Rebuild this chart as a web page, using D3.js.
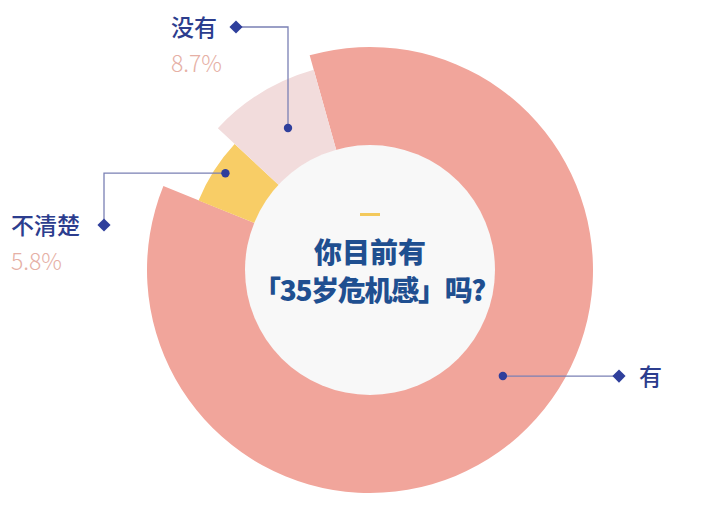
<!DOCTYPE html>
<html>
<head>
<meta charset="utf-8">
<script src="https://cdn.jsdelivr.net/npm/d3@7"></script>
<style>
  body { margin: 0; background: #fff; }
  svg { display: block; font-family: "Noto Sans CJK SC", "Noto Sans", sans-serif; }
</style>
</head>
<body>
<svg width="720" height="510"></svg>
<script>
// answers, in clockwise order starting just left of 12 o'clock
const answers = ["有", "不清楚", "没有"];
const shares = [85.5, 5.8, 8.7];
const shareLabels = ["", "5.8%", "8.7%"];
const titleLines = ["你目前有", "「35岁危机感」吗?"];

const cx = 370, cy = 270;
const innerR = 125;
const outerR = { "有": 223, "不清楚": 185, "没有": 208 };
const colors = { "有": "#f1a59b", "不清楚": "#f8cd66", "没有": "#f2dcdc" };
const navy = "#2f3f9c";

// where each leader line starts (angle in degrees, radius) and how it bends
const leaders = {
  "有":     { angle: 128.6, r: 170, path: "h", end: 619 },
  "不清楚": { angle: -56.2, r: 174, path: "hv", elbowX: 104, end: 225 },
  "没有":   { angle: -30,   r: 164, path: "vh", elbowY: 27, end: 236 }
};

const svg = d3.select("svg");
const g = svg.append("g").attr("transform", `translate(${cx},${cy})`);

const data = answers.map((a, i) => ({ answer: a, value: shares[i], label: shareLabels[i] }));

const pie = d3.pie()
  .value(d => d.value)
  .sort(null)
  .startAngle(-15.7 * Math.PI / 180)
  .endAngle((360 - 15.7) * Math.PI / 180);

const arcs = pie(data);

g.selectAll(".slice")
  .data(arcs)
  .enter()
  .append("path")
  .attr("class", "slice")
  .attr("fill", d => colors[d.data.answer])
  .attr("d", d => d3.arc().innerRadius(innerR - 1).outerRadius(outerR[d.data.answer])(d));

// centre disc
g.append("circle")
  .attr("r", innerR)
  .attr("fill", "#f8f8f8");

g.append("rect")
  .attr("x", -10).attr("y", -57)
  .attr("width", 20).attr("height", 3)
  .attr("fill", "#f3c95c");

g.selectAll(".title")
  .data(titleLines)
  .enter()
  .append("text")
  .attr("class", "title")
  .attr("text-anchor", "middle")
  .attr("x", (d, i) => i === 1 ? -1 : 0)
  .attr("y", (d, i) => -7 + i * 38)
  .attr("fill", "#1f4f90")
  .style("font-size", "28px")
  .style("font-weight", 900)
  .style("letter-spacing", (d, i) => i === 1 ? "-1.3px" : "0px")
  .text(d => d);

// leader lines
function polar(angleDeg, r) {
  const a = angleDeg * Math.PI / 180;
  return [cx + r * Math.sin(a), cy - r * Math.cos(a)];
}

const diamond = d3.symbol().type(d3.symbolDiamond2).size(110);

arcs.forEach(d => {
  const name = d.data.answer;
  const L = leaders[name];
  const [x0, y0] = polar(L.angle, L.r);
  let pts, tip;
  if (L.path === "h") {
    tip = [L.end, y0];
    pts = [[x0, y0], tip];
  } else if (L.path === "hv") {
    tip = [L.elbowX, 225];
    pts = [[x0, y0], [L.elbowX, y0], tip];
  } else {
    tip = [L.end, L.elbowY];
    pts = [[x0, y0], [x0, L.elbowY], tip];
  }

  svg.append("path")
    .attr("d", d3.line()(pts))
    .attr("fill", "none")
    .attr("stroke", "#7a80b4")
    .attr("stroke-width", 1.3);

  svg.append("circle")
    .attr("cx", x0).attr("cy", y0)
    .attr("r", 4.2)
    .attr("fill", navy);

  svg.append("path")
    .attr("transform", `translate(${tip[0]},${tip[1]})`)
    .attr("d", diamond)
    .attr("fill", navy);

  // labels
  let tx, ty;
  if (name === "有") { tx = tip[0] + 20; ty = tip[1] + 9; }
  else if (name === "不清楚") { tx = 11; ty = tip[1] + 9; }
  else { tx = 171; ty = tip[1] + 9; }

  svg.append("text")
    .attr("x", tx).attr("y", ty)
    .attr("fill", "#2c3d8e")
    .style("font-size", "23px")
    .style("font-weight", 500)
    .text(name);

  if (d.data.label) {
    svg.append("text")
      .attr("x", tx).attr("y", ty + 36)
      .attr("fill", "#e6b0a5")
      .style("font-size", "23px")
      .style("font-weight", 300)
      .text(d.data.label);
  }
});
</script>
</body>
</html>
